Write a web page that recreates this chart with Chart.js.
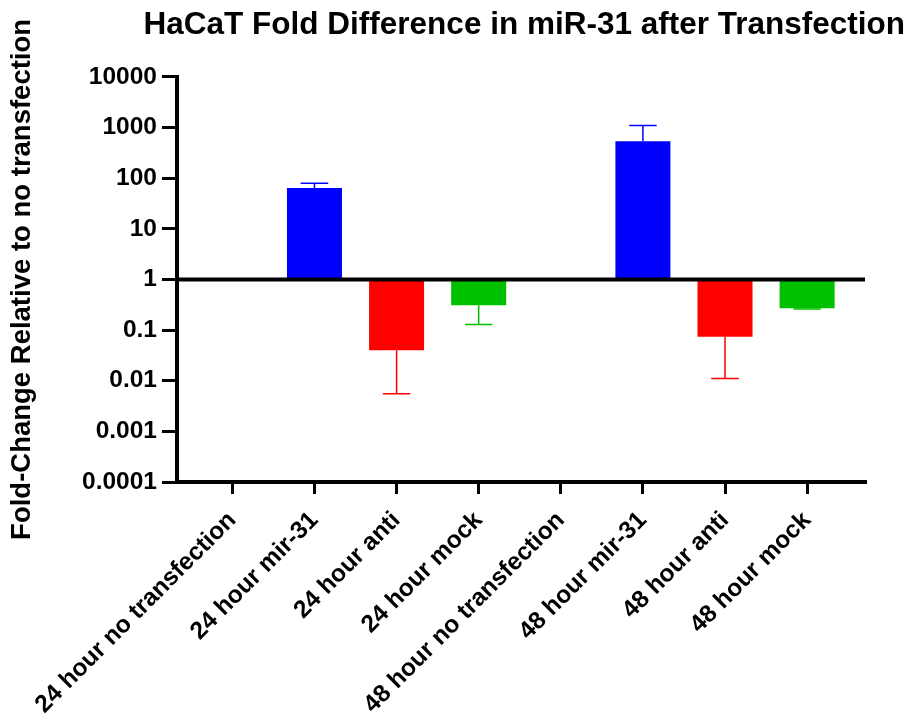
<!DOCTYPE html>
<html lang="en">
<head>
    <meta charset="UTF-8">
    <title>HaCaT Fold Difference in miR-31 after Transfection</title>
    <style>
        html, body { margin: 0; padding: 0; background: #fff; }
        .chart-container { width: 912px; height: 721px; }
    </style>
</head>
<body>
    <div class="chart-container">
        <canvas id="foldChart"></canvas>
    </div>

    <script src="https://cdn.jsdelivr.net/npm/chart.js"></script>
    <script>
        // Grupos y valores (fold change relativo a sin transfección)
        const categories = ['24 hour no transfection', '24 hour mir-31', '24 hour anti', '24 hour mock',
                            '48 hour no transfection', '48 hour mir-31', '48 hour anti', '48 hour mock'];
        const foldValues = [1, 64, 0.040, 0.31, 1, 531, 0.074, 0.27];
        // Extremo de la barra de error (hacia arriba o hacia abajo según la barra)
        const errorEnds = [null, 79, 0.0055, 0.128, null, 1097, 0.011, 0.26];
        const barColors = ['#0000FF', '#0000FF', '#FF0000', '#00C000',
                           '#0000FF', '#0000FF', '#FF0000', '#00C000'];
        const yTickValues = [10000, 1000, 100, 10, 1, 0.1, 0.01, 0.001, 0.0001];
        const yTickLabels = ['10000', '1000', '100', '10', '1', '0.1', '0.01', '0.001', '0.0001'];

        const FONT = "'Liberation Sans', Arial, sans-serif";

        // Barras de error de un solo lado + línea gruesa en y = 1
        const extrasPlugin = {
            id: 'extras',
            afterDatasetsDraw(chart) {
                const ctx = chart.ctx;
                const y = chart.scales.y;
                const area = chart.chartArea;
                const meta = chart.getDatasetMeta(0);
                ctx.save();
                meta.data.forEach((bar, i) => {
                    if (errorEnds[i] == null) return;
                    const yVal = y.getPixelForValue(foldValues[i]);
                    const yErr = y.getPixelForValue(errorEnds[i]);
                    const half = bar.width / 4;
                    ctx.strokeStyle = barColors[i];
                    ctx.lineWidth = 1.5;
                    ctx.beginPath();
                    ctx.moveTo(bar.x, yVal);
                    ctx.lineTo(bar.x, yErr);
                    ctx.moveTo(bar.x - half, yErr);
                    ctx.lineTo(bar.x + half, yErr);
                    ctx.stroke();
                });
                const y1 = y.getPixelForValue(1);
                ctx.strokeStyle = '#000';
                ctx.lineWidth = 4;
                ctx.beginPath();
                ctx.moveTo(area.left, y1);
                ctx.lineTo(area.right, y1);
                ctx.stroke();
                ctx.restore();
            }
        };

        const ctx = document.getElementById('foldChart').getContext('2d');
        const foldChart = new Chart(ctx, {
            type: 'bar',
            data: {
                datasets: [{
                    data: foldValues.map((v, i) => ({ x: i, y: [1, v] })),
                    backgroundColor: barColors,
                    borderWidth: 0,
                    barPercentage: 0.67,
                    categoryPercentage: 1
                }]
            },
            options: {
                responsive: true,
                maintainAspectRatio: false,
                animation: false,
                layout: { padding: { top: 6, right: 7, bottom: 1, left: 6 } },
                plugins: {
                    legend: { display: false },
                    tooltip: { enabled: false },
                    title: {
                        display: true,
                        align: 'end',
                        text: 'HaCaT Fold Difference in miR-31 after Transfection',
                        color: '#000',
                        font: { family: FONT, size: 31.5, weight: 'bold' },
                        padding: { top: 0, bottom: 33 }
                    }
                },
                scales: {
                    x: {
                        type: 'linear',
                        min: -0.675,
                        max: 7.705,
                        offset: false,
                        afterBuildTicks: (axis) => {
                            axis.ticks = categories.map((_, i) => ({ value: i }));
                        },
                        // altura fija de la zona de etiquetas inclinadas
                        afterFit: (axis) => { axis.height = 238; },
                        ticks: {
                            callback: (value, index) => categories[index],
                            color: '#000',
                            font: { family: FONT, size: 24.5, weight: 'bold' },
                            minRotation: 45,
                            maxRotation: 45,
                            autoSkip: false,
                            padding: 12
                        },
                        grid: {
                            offset: false,
                            drawOnChartArea: false,
                            drawTicks: true,
                            tickLength: 12,
                            lineWidth: 3,
                            color: '#000'
                        },
                        border: { width: 4, color: '#000' }
                    },
                    y: {
                        type: 'logarithmic',
                        min: 0.0001,
                        max: 10000,
                        afterBuildTicks: (axis) => {
                            axis.ticks = yTickValues.map(v => ({ value: v }));
                        },
                        ticks: {
                            callback: (value, index) => yTickLabels[index],
                            color: '#000',
                            font: { family: FONT, size: 24.5, weight: 'bold' },
                            padding: 5,
                            autoSkip: false
                        },
                        grid: {
                            drawOnChartArea: false,
                            drawTicks: true,
                            tickLength: 15,
                            lineWidth: 3,
                            color: '#000'
                        },
                        border: { width: 4, color: '#000' },
                        title: {
                            display: true,
                            text: 'Fold-Change Relative to no transfection',
                            color: '#000',
                            font: { family: FONT, size: 27.5, weight: 'bold' },
                            padding: { top: 0, bottom: 38 }
                        }
                    },
                    // eje vacío a la derecha, solo deja margen bajo el final del título
                    spacer: {
                        type: 'linear',
                        position: 'right',
                        ticks: { display: false },
                        grid: { display: false },
                        border: { display: false },
                        afterFit: (axis) => { axis.width = 40; }
                    }
                }
            },
            plugins: [extrasPlugin]
        });
    </script>
</body>
</html>
